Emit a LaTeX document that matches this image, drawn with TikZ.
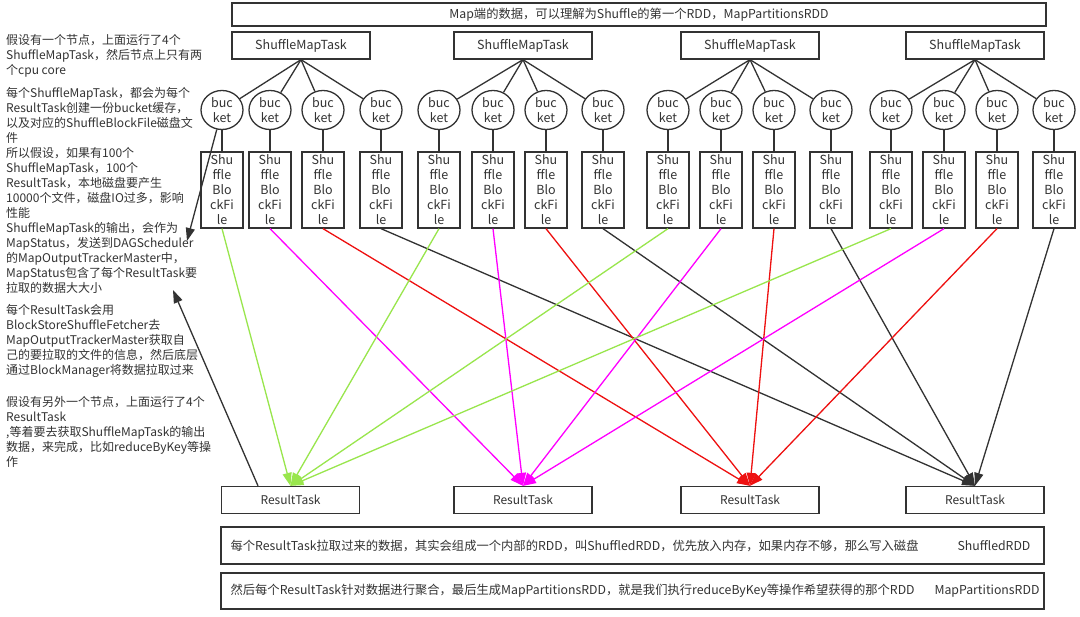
\documentclass[tikz,border=0pt]{standalone}
\usepackage{fontspec}
\setmainfont{Noto Sans CJK SC}
\usetikzlibrary{shapes.geometric,arrows.meta}
\definecolor{ink}{HTML}{333333}
\definecolor{c0}{HTML}{99E64D}
\definecolor{c1}{HTML}{FF00FF}
\definecolor{c2}{HTML}{EE1111}
\definecolor{c3}{HTML}{333333}
\begin{document}
\begin{tikzpicture}[x=1pt,y=-1pt,
  every node/.style={text=ink},
  frame/.style={draw=ink,line width=1.3pt,inner sep=0pt},
  taskbox/.style={frame,minimum width=138pt,minimum height=27pt,font=\fontsize{12.5}{14}\selectfont},
  bucket/.style={frame,ellipse,minimum width=42pt,minimum height=39pt,align=center,font=\fontsize{12.5}{15}\selectfont},
  filebox/.style={frame,minimum width=42pt,minimum height=76pt,align=center,font=\fontsize{12.5}{15}\selectfont},
  note/.style={anchor=base west,align=left,inner sep=0pt,font=\fontsize{12}{15}\selectfont},
  boxtext/.style={inner sep=0pt,font=\fontsize{12.3}{14}\selectfont},
  tree/.style={draw=ink,line width=1.3pt},
  flow/.style={line width=1.3pt,-{Triangle[length=13pt,width=9pt]}},
]
\fill[white] (0,0) rectangle (1080,617);
\useasboundingbox (0,0) rectangle (1080,617);

% header
\node[frame,minimum width=814pt,minimum height=23pt,font=\fontsize{12.3}{14}\selectfont] (hdr) at (639,14.5)
  {Map端的数据，可以理解为Shuffle的第一个RDD，MapPartitionsRDD};

% ShuffleMapTasks
\foreach \x [count=\s from 0] in {301,523,750,975}
  \node[taskbox] (smt\s) at (\x,45.5) {ShuffleMapTask};

% buckets and files
\foreach \x [count=\i from 0] in {222,270,323,381,439,493,546,603,668,721,774,831,891,944,997,1054}{
  \pgfmathtruncatemacro\s{int(\i/4)}
  \node[bucket] (b\i) at (\x,110) {buc\\ket};
  \node[filebox] (f\i) at (\x,190) {Shu\\ffle\\Blo\\ckFi\\le};
  \draw[tree] (smt\s.south) -- (b\i);
  \draw[tree] (b\i.south) -- (f\i.north);
}

% ResultTasks
\foreach \x [count=\r from 0] in {290.5,523,750,975}
  \node[taskbox,font=\fontsize{12}{14}\selectfont] (rt\r) at (\x,500) {ResultTask};

% flows
\foreach \i in {0,...,15}{
  \pgfmathtruncatemacro\r{mod(\i,4)}
  \draw[flow,draw=c\r,fill=c\r] (f\i.south) -- (rt\r.north);
}

% left notes (anchored at the baseline of their last line)
\node[note] (n1) at (6,74.5) {假设有一个节点，上面运行了4个\\ShuffleMapTask，然后节点上只有两\\个cpu core};
\node[note] (n2) at (6,292.5) {每个ShuffleMapTask，都会为每个\\ResultTask创建一份bucket缓存，\\以及对应的ShuffleBlockFile磁盘文\\件\\所以假设，如果有100个\\ShuffleMapTask，100个\\ResultTask，本地磁盘要产生\\10000个文件，磁盘IO过多，影响\\性能\\ShuffleMapTask的输出，会作为\\MapStatus，发送到DAGScheduler\\的MapOutputTrackerMaster中，\\MapStatus包含了每个ResultTask要\\拉取的数据大大小};
\node[note] (n3) at (6,374.5) {每个ResultTask会用\\BlockStoreShuffleFetcher去\\MapOutputTrackerMaster获取自\\己的要拉取的文件的信息，然后底层\\通过BlockManager将数据拉取过来};
\node[note] (n4) at (6,466.5) {假设有另外一个节点，上面运行了4个\\ResultTask\\,等着要去获取ShuffleMapTask的输出\\数据，来完成，比如reduceByKey等操\\作};

% left black arrows
\coordinate (la) at (187,241);
\coordinate (lb) at (173,290);
\draw[flow,draw=ink,fill=ink] (b0) -- (la);
\draw[flow,draw=ink,fill=ink] ([xshift=-32.5pt]rt0.north) -- (lb);

% bottom boxes
\node[frame,minimum width=823pt,minimum height=37pt] (sb1) at (632.5,545.5) {};
\node[frame,minimum width=823pt,minimum height=36pt] (sb2) at (632.5,591) {};
\node[boxtext,anchor=west] (t1) at ([xshift=10pt]sb1.west) {每个ResultTask拉取过来的数据，其实会组成一个内部的RDD，叫ShuffledRDD，优先放入内存，如果内存不够，那么写入磁盘};
\node[boxtext,anchor=east] (t1r) at ([xshift=-14pt]sb1.east) {ShuffledRDD};
\node[boxtext,anchor=west] (t2) at ([xshift=10pt]sb2.west) {然后每个ResultTask针对数据进行聚合，最后生成MapPartitionsRDD，就是我们执行reduceByKey等操作希望获得的那个RDD};
\node[boxtext,anchor=east] (t2r) at ([xshift=-5pt]sb2.east) {MapPartitionsRDD};
\end{tikzpicture}
\end{document}
